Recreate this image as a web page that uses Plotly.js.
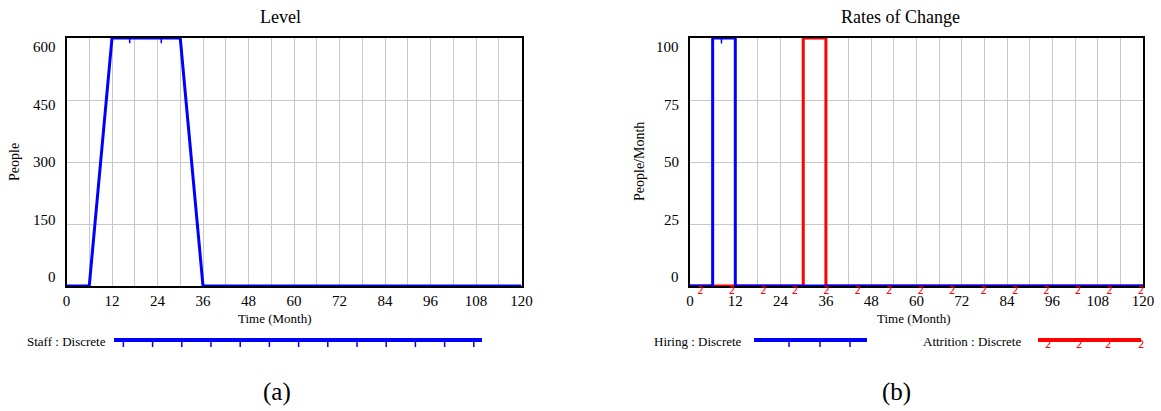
<!DOCTYPE html>
<html>
<head>
<meta charset="utf-8">
<script src="https://cdn.plot.ly/plotly-3.0.1.min.js"></script>
<style>html,body{margin:0;padding:0;background:#fff;}#chart{width:1161px;height:411px;}</style>
</head>
<body>
<div id="chart"></div>
<script>
// ---- data ----
const staffTime = [0, 6, 12, 30, 36, 120];
const staffValues = [0, 0, 600, 600, 0, 0];
const hiringTime = [0, 6, 12, 120];
const hiringValues = [0, 100, 0, 0];
const attritionTime = [0, 30, 36, 120];
const attritionValues = [0, 100, 0, 0];
const xTicks = [0, 12, 24, 36, 48, 60, 72, 84, 96, 108, 120];
const levelTicks = [0, 150, 300, 450, 600];
const rateTicks = [0, 25, 50, 75, 100];
const markerStep = 25 / 3;   // marker spacing (months)

// ---- helpers ----
function linAt(ts, vs, t) {
  for (let i = 0; i < ts.length - 1; i++) {
    if (t >= ts[i] && t <= ts[i + 1]) {
      const f = (t - ts[i]) / (ts[i + 1] - ts[i]);
      return vs[i] + f * (vs[i + 1] - vs[i]);
    }
  }
  return vs[vs.length - 1];
}
function stepAt(ts, vs, t) {
  let v = vs[0];
  for (let i = 0; i < ts.length; i++) if (t >= ts[i]) v = vs[i];
  return v;
}
const m1 = [], m2 = [];
for (let k = 0; k * markerStep <= 120 + 1e-9; k++) m1.push(k * markerStep);
for (let k = 0; markerStep / 3 + k * markerStep <= 120 + 1e-9; k++) m2.push(markerStep / 3 + k * markerStep);

const W = 1161, H = 411;
const px = v => v / W, py = v => 1 - v / H;
const FONT = 'Liberation Serif, Times New Roman, serif';
const BLUE = '#0000ff', RED = '#ff0000';

const L = {x0: 66.5, x1: 521.5}, R = {x0: 690, x1: 1143};
const yTop = 38, yBot = 286;

function xaxisDef(d) {
  return {
    domain: [px(d.x0), px(d.x1)], range: [0, 120], tickvals: xTicks,
    showgrid: true, gridcolor: '#c8c8c8', gridwidth: 1,
    minor: {dtick: 6, tick0: 0, showgrid: true, gridcolor: '#c8c8c8', gridwidth: 1},
    showline: true, mirror: true, linecolor: '#000', linewidth: 2,
    ticks: '', zeroline: false, layer: 'below traces',
    tickfont: {family: FONT, size: 15, color: '#000'}, ticklabelstandoff: 0,
    fixedrange: true
  };
}
function yaxisDef(anchor, tv, rng) {
  return {
    domain: [py(yBot), py(yTop)], range: rng, tickvals: tv, anchor: anchor,
    showgrid: true, gridcolor: '#c8c8c8', gridwidth: 1,
    showline: true, mirror: true, linecolor: '#000', linewidth: 2,
    ticks: '', zeroline: false, showticklabels: false, layer: 'below traces',
    fixedrange: true
  };
}

const traces = [
  {x: staffTime, y: staffValues, xaxis: 'x', yaxis: 'y', mode: 'lines',
   line: {color: BLUE, width: 3}, cliponaxis: false, hoverinfo: 'skip'},
  {x: m1, y: m1.map(t => linAt(staffTime, staffValues, t)), xaxis: 'x', yaxis: 'y', mode: 'markers',
   marker: {size: 1, color: 'rgba(0,0,0,0)'}, cliponaxis: false, hoverinfo: 'skip',
   error_y: {type: 'constant', symmetric: false, value: 0, valueminus: 13, width: 0, thickness: 1.5, color: BLUE}},
  {x: attritionTime, y: attritionValues, xaxis: 'x2', yaxis: 'y2', mode: 'lines',
   line: {color: RED, width: 3, shape: 'hv'}, cliponaxis: false, hoverinfo: 'skip'},
  {x: hiringTime, y: hiringValues, xaxis: 'x2', yaxis: 'y2', mode: 'lines',
   line: {color: BLUE, width: 3, shape: 'hv'}, cliponaxis: false, hoverinfo: 'skip'},
  {x: m1, y: m1.map(t => stepAt(hiringTime, hiringValues, t)), xaxis: 'x2', yaxis: 'y2', mode: 'markers',
   marker: {size: 1, color: 'rgba(0,0,0,0)'}, cliponaxis: false, hoverinfo: 'skip',
   error_y: {type: 'constant', symmetric: false, value: 0, valueminus: 2.2, width: 0, thickness: 1.5, color: BLUE}},
  {x: m2, y: m2.map(t => stepAt(attritionTime, attritionValues, t)), xaxis: 'x2', yaxis: 'y2', mode: 'text',
   text: m2.map(() => '2'), textposition: 'bottom center', cliponaxis: false, hoverinfo: 'skip',
   textfont: {family: 'DejaVu Sans, sans-serif', size: 10, color: RED}}
];

const ann = [];
function txt(text, x, y, size, extra) {
  ann.push(Object.assign({text: text, xref: 'paper', yref: 'paper', x: px(x), y: py(y), showarrow: false,
    xanchor: 'center', yanchor: 'middle', font: {family: FONT, size: size, color: '#000'}}, extra || {}));
}
txt('Level', 280, 17, 18);
txt('Rates of Change', 900, 17, 18);
txt('People', 15, 162, 14, {textangle: -90});
txt('People/Month', 640, 162, 14, {textangle: -90});
txt('Time (Month)', 275, 318, 13);
txt('Time (Month)', 914, 318, 13);
txt('(a)', 277, 392, 25);
txt('(b)', 896, 392, 25);
txt('Staff : Discrete', 25, 341, 13, {xanchor: 'left'});
txt('Hiring : Discrete', 652, 341, 13, {xanchor: 'left'});
txt('Attrition : Discrete', 921, 341, 13, {xanchor: 'left'});

levelTicks.forEach((v, i) => ann.push({text: String(v), xref: 'paper', yref: 'y', x: px(L.x0), y: v,
  xanchor: 'right', yanchor: 'middle', xshift: -9, yshift: 9 - 4.5 * i, showarrow: false,
  font: {family: FONT, size: 15, color: '#000'}}));
rateTicks.forEach((v, i) => ann.push({text: String(v), xref: 'paper', yref: 'y2', x: px(R.x0), y: v,
  xanchor: 'right', yanchor: 'middle', xshift: -9, yshift: 9 - 4.5 * i, showarrow: false,
  font: {family: FONT, size: 15, color: '#000'}}));

// legend samples
const shapes = [];
function seg(x0, y0, x1, y1, color, w) {
  shapes.push({type: 'line', xref: 'paper', yref: 'paper', x0: px(x0), y0: py(y0), x1: px(x1), y1: py(y1),
    line: {color: color, width: w}});
}
seg(114, 340, 482, 340, BLUE, 4);
for (let xx = 123.4; xx < 480; xx += 29.2) seg(xx, 340, xx, 347, BLUE, 1.5);
seg(754, 340, 867, 340, BLUE, 4);
[789, 820, 850].forEach(xx => seg(xx, 340, xx, 347, BLUE, 1.5));
seg(1038, 340, 1141, 340, RED, 4);
[1048, 1079, 1108, 1141].forEach(xx => ann.push({text: '2', xref: 'paper', yref: 'paper', x: px(xx), y: py(337),
  xanchor: 'center', yanchor: 'top', showarrow: false, font: {family: 'DejaVu Sans, sans-serif', size: 10, color: RED}}));

const layout = {
  width: W, height: H, margin: {l: 0, r: 0, t: 0, b: 0},
  paper_bgcolor: '#fff', plot_bgcolor: '#fff', showlegend: false,
  xaxis: Object.assign(xaxisDef(L), {anchor: 'y'}),
  yaxis: yaxisDef('x', levelTicks, [0, 600]),
  xaxis2: Object.assign(xaxisDef(R), {anchor: 'y2'}),
  yaxis2: yaxisDef('x2', rateTicks, [0, 100]),
  annotations: ann, shapes: shapes
};
Plotly.newPlot('chart', traces, layout, {displayModeBar: false, staticPlot: true});
</script>
</body>
</html>
